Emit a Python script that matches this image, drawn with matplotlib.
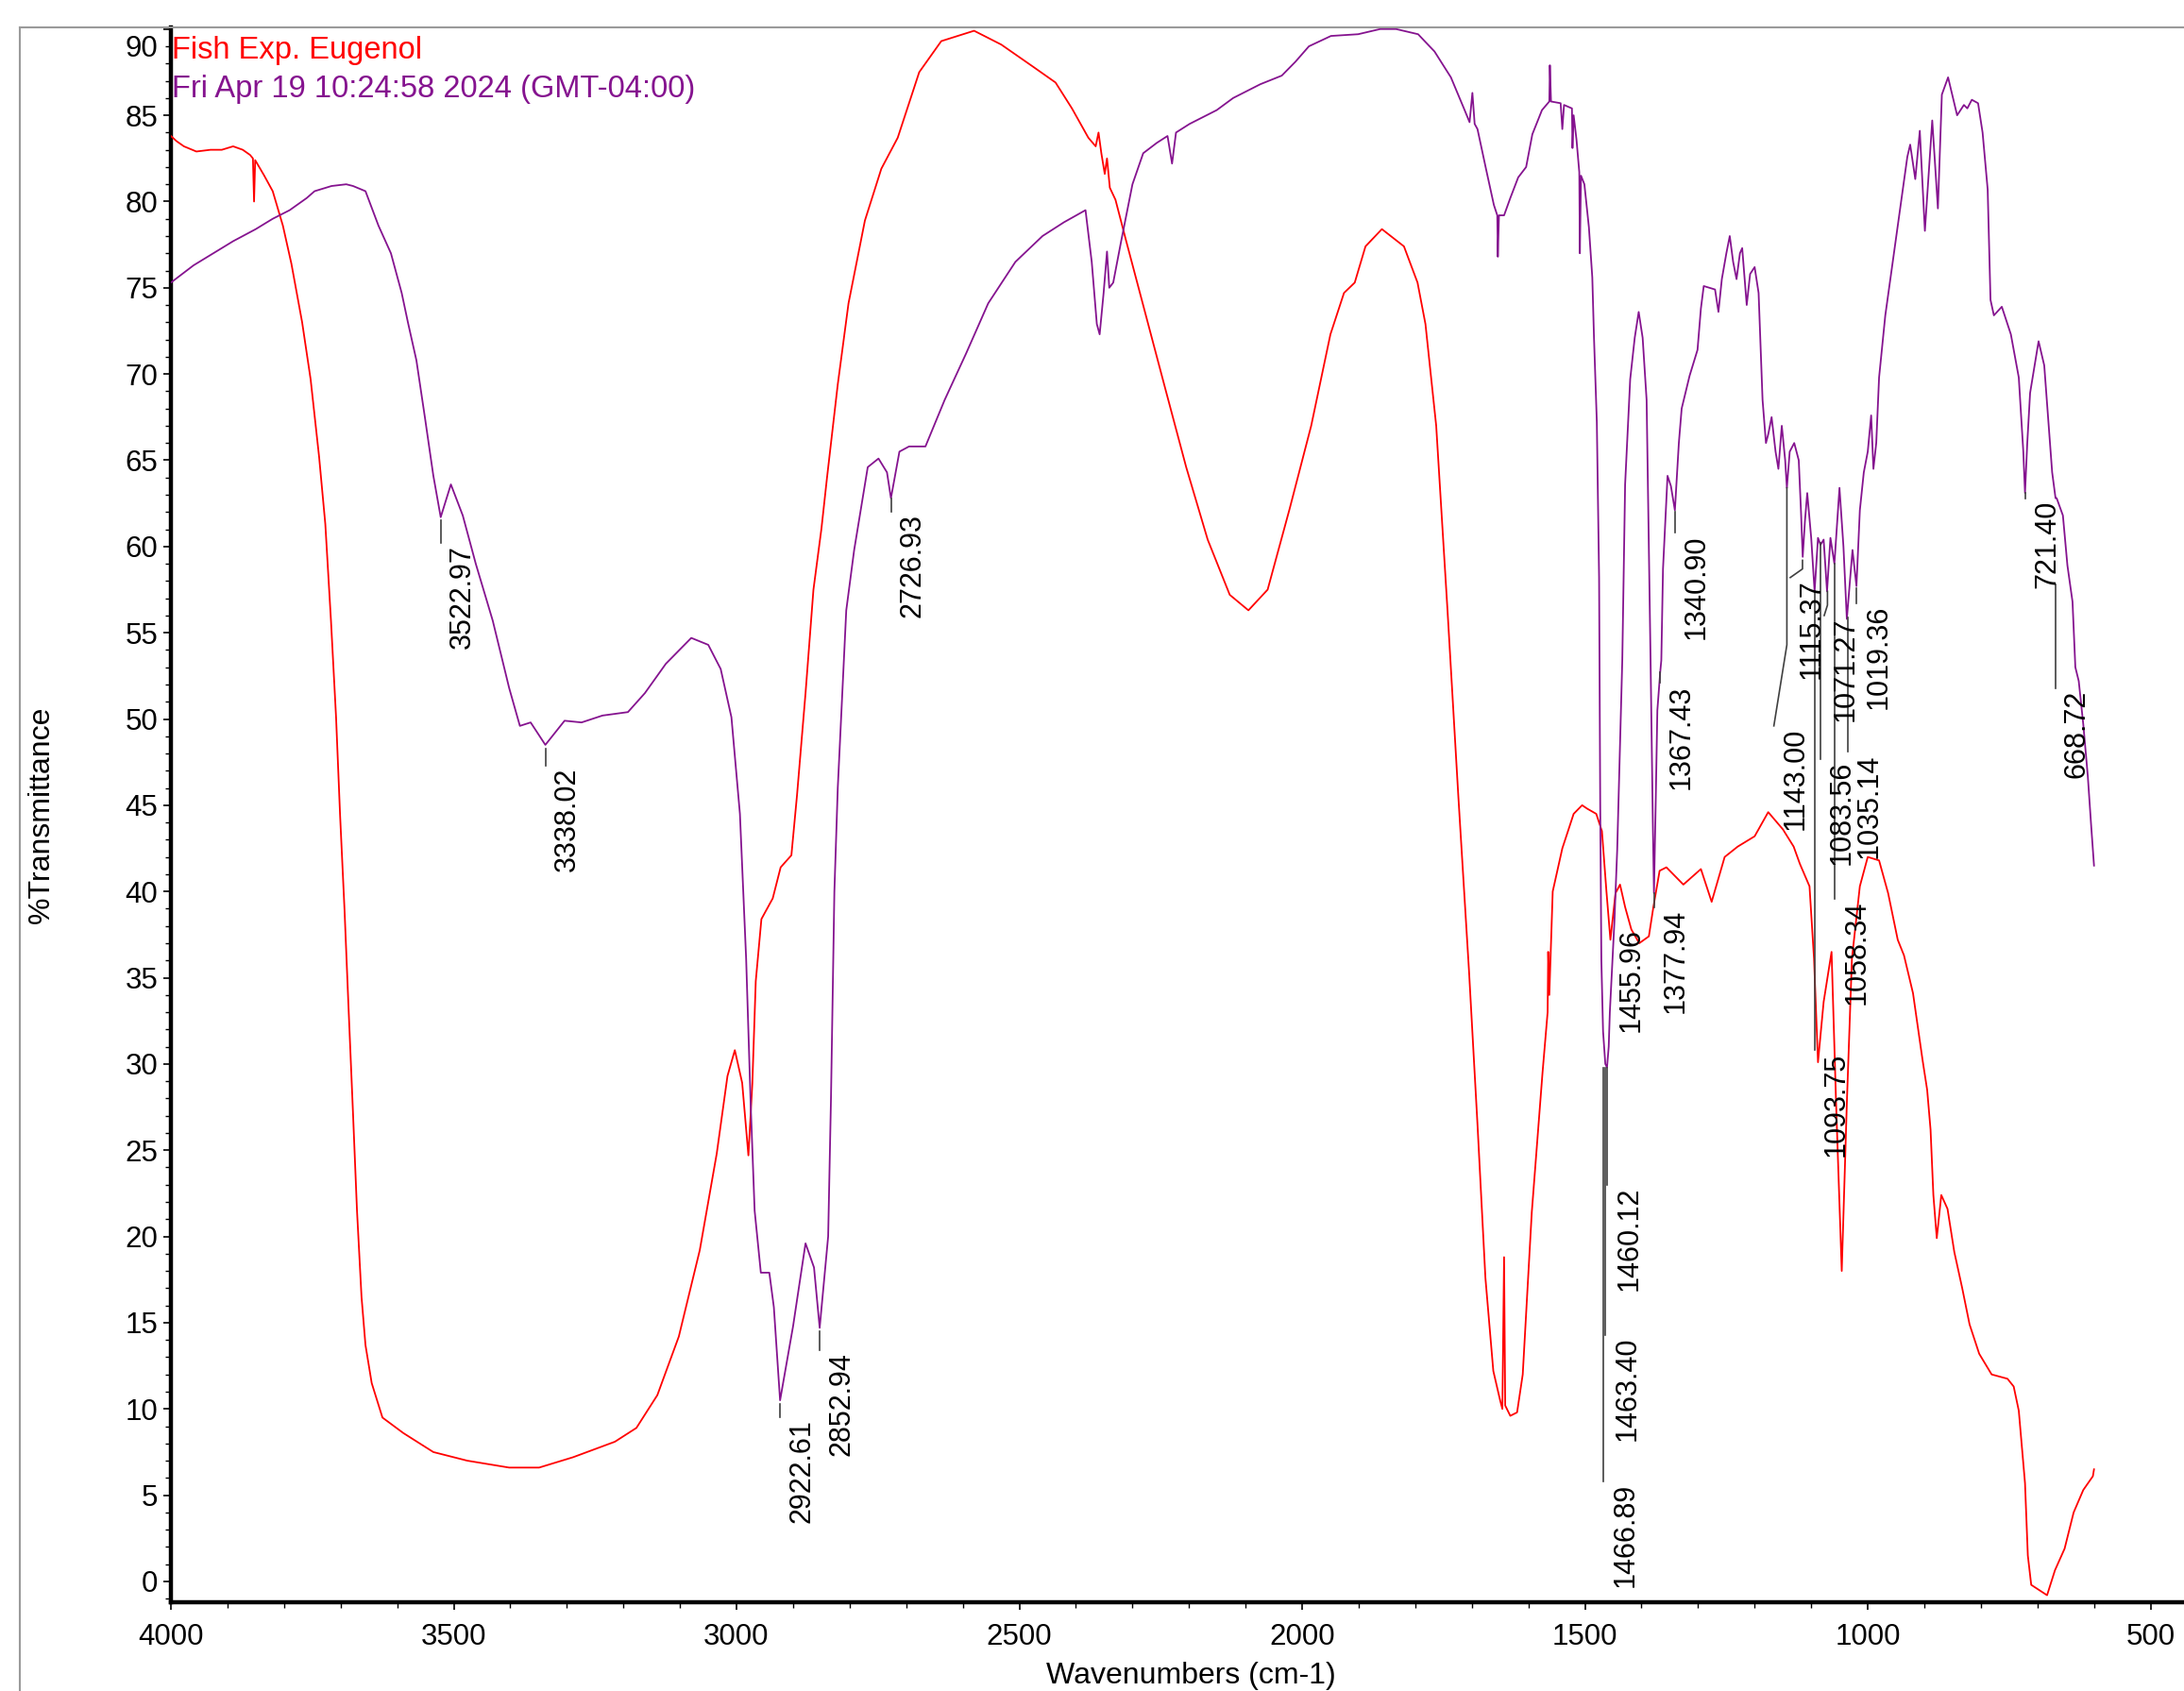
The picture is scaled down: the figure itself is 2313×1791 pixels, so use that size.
import numpy as np
import matplotlib.pyplot as plt
from matplotlib.ticker import MultipleLocator, FuncFormatter
from matplotlib.transforms import offset_copy

plt.rcParams['font.family'] = ['Liberation Sans', 'DejaVu Sans']

RED = '#ff0000'
PURPLE = '#85138f'

title_red = 'Fish Exp. Eugenol'
title_purple = 'Fri Apr 19 10:24:58 2024 (GMT-04:00)'

# red spectrum (Fish Exp. Eugenol), wavenumber / %T
red_wn = [4000, 3990, 3977, 3955, 3930, 3910, 3890, 3873, 3860, 3855, 3853, 3851, 3835, 3820,
          3802, 3787, 3768, 3753, 3738, 3727, 3717, 3708, 3701, 3693, 3686, 3678, 3671, 3663,
          3656, 3645, 3626, 3589, 3536, 3476, 3402, 3349, 3289, 3215, 3177, 3140, 3102, 3065,
          3035, 3016, 3003, 2990, 2979, 2972, 2966, 2956, 2936, 2922, 2903, 2893, 2878, 2864,
          2850, 2840, 2821, 2802, 2773, 2744, 2715, 2677, 2638, 2580, 2532, 2475, 2436, 2407,
          2378, 2365, 2360, 2355, 2349, 2345, 2340, 2330, 2311, 2282, 2244, 2205, 2167, 2128,
          2095, 2061, 2022, 1984, 1950, 1926, 1907, 1888, 1859, 1820, 1796, 1782, 1763, 1743,
          1724, 1705, 1690, 1676, 1662, 1650, 1646, 1643, 1641, 1632, 1620, 1610, 1594, 1575,
          1566, 1565, 1563, 1557, 1540, 1520, 1505, 1496, 1480, 1470, 1462, 1455, 1446, 1438,
          1429, 1418, 1404, 1387, 1379, 1368, 1356, 1326, 1295, 1276, 1253, 1230, 1200, 1176,
          1150, 1131, 1120, 1103, 1095, 1088, 1078, 1064, 1056, 1046, 1037, 1028, 1014, 1000,
          980, 964, 947, 936, 920, 903, 895, 889, 884, 878, 870, 859, 847, 833, 820, 803, 781,
          753, 742, 733, 722, 717, 711, 697, 683, 669, 652, 636, 619, 602, 600]
red_t = [83.8, 83.5, 83.2, 82.9, 83.0, 83.0, 83.2, 83.0, 82.7, 82.5, 80.0, 82.4, 81.5, 80.6,
         78.6, 76.4, 73.0, 69.7, 65.2, 61.3, 55.7, 50.1, 44.5, 38.9, 33.3, 27.1, 21.5, 16.5,
         13.7, 11.5, 9.5, 8.6, 7.5, 7.0, 6.6, 6.6, 7.2, 8.1, 8.9, 10.8, 14.2, 19.2,
         24.8, 29.3, 30.8, 28.9, 24.7, 28.9, 34.8, 38.4, 39.6, 41.4, 42.1, 45.6, 51.5, 57.5,
         61.0, 64.0, 69.4, 74.1, 78.9, 81.9, 83.7, 87.5, 89.3, 89.9, 89.1, 87.8, 86.9, 85.4,
         83.7, 83.2, 84.0, 82.8, 81.6, 82.5, 80.8, 80.1, 77.7, 74.1, 69.4, 64.6, 60.4, 57.2,
         56.3, 57.5, 62.2, 67.0, 72.3, 74.7, 75.3, 77.4, 78.4, 77.4, 75.3, 72.9, 67.0, 56.3,
         45.6, 35.4, 26.5, 17.6, 12.2, 10.5, 10.0, 18.8, 10.2, 9.6, 9.8, 12.0, 21.4, 29.5,
         33.0, 36.5, 34.0, 40.0, 42.5, 44.5, 45.0, 44.8, 44.5, 43.5, 40.0, 37.2, 39.9, 40.4,
         39.1, 37.8, 37.0, 37.4, 39.1, 41.2, 41.4, 40.4, 41.3, 39.4, 42.0, 42.6, 43.2, 44.6,
         43.6, 42.6, 41.6, 40.3, 36.1, 30.1, 33.6, 36.5, 27.7, 18.0, 27.7, 36.1, 40.3, 42.0,
         41.8, 39.9, 37.2, 36.3, 34.1, 30.2, 28.5, 26.2, 22.4, 19.9, 22.4, 21.6, 19.1, 17.0,
         14.9, 13.2, 12.0, 11.75, 11.3, 9.9, 5.7, 1.5, -0.2, -0.5, -0.8, 0.65, 1.9, 4.0, 5.3,
         6.1, 6.5]

# purple spectrum
pur_wn = [4000, 3960, 3925, 3890, 3850, 3820, 3790, 3760, 3746, 3716, 3690, 3678, 3656, 3633,
          3611, 3592, 3581, 3566, 3551, 3536, 3523, 3505, 3484, 3461, 3431, 3402, 3383, 3364,
          3338, 3304, 3274, 3237, 3192, 3162, 3125, 3080, 3050, 3028, 3009, 2994, 2983, 2975,
          2968, 2957, 2942, 2934, 2923, 2900, 2878, 2863, 2853, 2838, 2833, 2827, 2821, 2806,
          2792, 2768, 2749, 2734, 2727, 2712, 2695, 2666, 2632, 2594, 2555, 2507, 2459, 2421,
          2383, 2372, 2363, 2358, 2351, 2345, 2341, 2334, 2320, 2300, 2281, 2257, 2238, 2230,
          2223, 2199, 2151, 2122, 2074, 2036, 2012, 1988, 1949, 1901, 1862, 1834, 1795, 1766,
          1737, 1714, 1704, 1699, 1695, 1690, 1675, 1661, 1655, 1654, 1652, 1643, 1632, 1618,
          1604, 1593, 1576, 1563, 1562, 1560, 1543, 1540, 1537, 1523, 1522, 1520, 1515, 1510,
          1509, 1507, 1501, 1493, 1487, 1484, 1479, 1475, 1473, 1471, 1468, 1464, 1461, 1458,
          1456, 1448, 1443, 1434, 1429, 1420, 1412, 1405, 1398, 1391, 1387, 1384, 1380, 1378,
          1375, 1372, 1367, 1365, 1362, 1354, 1348, 1341, 1334, 1329, 1315, 1301, 1295, 1290,
          1280, 1270, 1264, 1258, 1250, 1244, 1238, 1232, 1226, 1222, 1214, 1208, 1200, 1193,
          1186, 1180, 1176, 1170, 1163, 1158, 1152, 1146, 1143, 1138, 1130, 1122, 1118, 1115,
          1111, 1107, 1100, 1094, 1088, 1083.5, 1078, 1072, 1066, 1059, 1050, 1043, 1037, 1027,
          1020, 1014, 1007, 1000, 994, 990, 985, 980, 969, 955, 941, 930, 925, 916, 908, 899,
          886, 876, 869, 858, 842, 830, 824, 816, 805, 797, 788, 783, 777, 763, 747, 733, 725,
          722, 718, 713, 698, 688, 680, 674, 668, 666, 655, 647, 638, 633, 627, 619, 611, 605,
          600]
pur_t = [75.3, 76.3, 77.0, 77.7, 78.4, 79.0, 79.5, 80.2, 80.6, 80.9, 81.0, 80.9, 80.6, 78.6,
         77.0, 74.7, 73.0, 70.8, 67.5, 64.1, 61.7, 63.6, 61.8, 59.0, 55.7, 51.8, 49.6, 49.8,
         48.5, 49.9, 49.8, 50.2, 50.4, 51.5, 53.2, 54.7, 54.3, 52.9, 50.1, 44.5, 36.1, 27.7,
         21.5, 17.9, 17.9, 15.9, 10.5, 14.8, 19.6, 18.2, 14.7, 20.0, 28.0, 40.0, 46.0, 56.3,
         59.8, 64.6, 65.1, 64.3, 62.8, 65.5, 65.8, 65.8, 68.5, 71.2, 74.1, 76.5, 78.0, 78.8,
         79.5, 76.5, 72.9, 72.3, 74.7, 77.1, 75.0, 75.3, 77.7, 81.0, 82.8, 83.4, 83.8, 82.2,
         84.0, 84.5, 85.3, 86.0, 86.8, 87.3, 88.1, 89.0, 89.6, 89.7, 90.0, 90.0, 89.7, 88.7,
         87.2, 85.4, 84.6, 86.3, 84.5, 84.2, 81.9, 79.8, 79.2, 76.8, 79.2, 79.2, 80.2, 81.4,
         82.0, 83.9, 85.3, 85.8, 87.9, 85.8, 85.7, 84.2, 85.6, 85.4, 83.1, 85.0, 83.6, 81.7,
         77.0, 81.5, 81.0, 78.5, 75.6, 72.1, 67.2, 58.2, 45.0, 36.0, 31.9, 30.0, 29.8, 31.0,
         33.0, 38.2, 42.4, 53.4, 63.6, 69.7, 72.1, 73.6, 72.1, 68.5, 59.9, 53.4, 44.0, 39.9,
         45.0, 50.5, 52.7, 53.4, 58.7, 64.1, 63.5, 62.1, 66.0, 68.0, 69.9, 71.4, 73.8, 75.1,
         75.0, 74.9, 73.6, 75.5, 77.0, 78.0, 76.5, 75.5, 77.0, 77.3, 74.0, 75.8, 76.2, 74.7,
         68.5, 66.0, 66.5, 67.5, 65.5, 64.5, 67.0, 65.0, 63.4, 65.5, 66.0, 65.0, 62.0, 59.4,
         61.5, 63.1, 60.5, 57.4, 60.5, 60.1, 60.4, 57.4, 60.5, 59.0, 63.4, 60.0, 55.8, 59.8,
         57.7, 62.1, 64.3, 65.5, 67.6, 64.5, 66.0, 69.8, 73.4, 76.7, 80.0, 82.6, 83.3, 81.3,
         84.1, 78.3, 84.7, 79.6, 86.2, 87.2, 85.0, 85.6, 85.4, 85.9, 85.7, 84.0, 80.7, 74.3,
         73.4, 73.9, 72.3, 69.8, 65.5, 63.1, 66.0, 68.9, 71.9, 70.5, 67.0, 64.3, 62.8, 62.8,
         61.8, 58.9, 56.8, 53.0, 52.2, 49.7, 46.7, 43.8, 41.5]

# peak labels: text, line start %T, line knee %T, text anchor wn / %T
peak_text = ['3522.97', '3338.02', '2922.61', '2852.94', '2726.93', '1466.89', '1463.40',
             '1460.12', '1455.96', '1377.94', '1367.43', '1340.90', '1143.00', '1115.37',
             '1093.75', '1083.56', '1071.27', '1058.34', '1035.14', '1019.36', '721.40',
             '668.72']
peak_top = [61.5, 48.3, 10.3, 14.5, 62.8, 29.8, 29.8, 29.8, 38.0, 39.9, 52.7, 62.0, 63.4,
            59.2, 57.4, 60.2, 57.4, 59.0, 55.9, 57.6, 63.1, 57.8]
peak_knee = [60.2, 47.3, 9.5, 13.4, 62.0, 5.8, 14.3, 23.0, 38.0, 39.1, 52.1, 60.8, 54.3,
             58.7, 30.8, 47.7, 56.6, 39.6, 48.1, 56.7, 62.8, 51.8]
text_wn = [3522.97, 3338.02, 2922.61, 2852.94, 2726.93, 1466.89, 1463.40, 1460.12, 1455.96,
           1377.94, 1367.43, 1340.90, 1166.0, 1137.0, 1093.75, 1083.56, 1077.0, 1058.34,
           1035.14, 1019.36, 721.40, 668.72]
text_t = [60.2, 47.3, 9.5, 13.4, 62.0, 5.8, 14.3, 23.0, 38.0, 39.1, 52.1, 60.8, 49.6, 58.2,
          30.8, 47.7, 56.0, 39.6, 48.1, 56.7, 62.8, 51.8]

W, H = 2313, 1791
fig = plt.figure(figsize=(W / 100, H / 100), dpi=100)
left_px, top_px, bot_px = 181, 29.3, 1696.5
ax = fig.add_axes([left_px / W, 1 - bot_px / H, 1 - left_px / W, (bot_px - top_px) / H])

ax.plot(red_wn, red_t, color=RED, lw=1.3, zorder=3)
ax.plot(pur_wn, pur_t, color=PURPLE, lw=1.3, zorder=3)

ax.set_xlim(4000, 440.9)
ax.set_ylim(-1.18, 90.08)

for s in ['top', 'right']:
    ax.spines[s].set_visible(False)
for s in ['left', 'bottom']:
    ax.spines[s].set_linewidth(3.2)

ax.xaxis.set_major_locator(MultipleLocator(500))
ax.xaxis.set_minor_locator(MultipleLocator(100))
ax.yaxis.set_major_locator(MultipleLocator(5))
ax.yaxis.set_minor_locator(MultipleLocator(1))
ax.yaxis.set_major_formatter(FuncFormatter(lambda v, p: '' if round(v) >= 90 else '%d' % round(v)))
ax.tick_params(which='major', direction='out', length=6, width=1.2, labelsize=22.5)
ax.tick_params(which='minor', direction='out', length=4, width=1.0)
ax.tick_params(axis='x', which='major', pad=10)
ax.tick_params(axis='y', which='major', pad=4)
ax.annotate('90', xy=(0, 90), xycoords=('axes fraction', 'data'), xytext=(-10, -15),
            textcoords='offset points', ha='right', va='center', fontsize=22.5)

# peak markers
tr = offset_copy(ax.transData, fig=fig, x=8, y=-2, units='dots')
for i, lab in enumerate(peak_text):
    pw = float(lab)
    ax.plot([pw, pw, text_wn[i]], [peak_top[i], peak_knee[i], text_t[i]],
            color='#404040', lw=1.2, zorder=4)
    ax.text(text_wn[i], text_t[i], lab, transform=tr, rotation=90, ha='left', va='top',
            fontsize=22, color='black', zorder=5)

fig.text(182 / W, 1 - 61.7 / H, title_red, color=RED, fontsize=23.5, va='baseline')
fig.text(182 / W, 1 - 102.7 / H, title_purple, color=PURPLE, fontsize=23.5, va='baseline')
fig.text(44 / W, 1 - 863 / H, '%Transmittance', rotation=90, ha='center', va='center',
         fontsize=23)
fig.text(1261 / W, 1 - 1783 / H, 'Wavenumbers (cm-1)', ha='center', va='baseline', fontsize=23)

# outer frame
fig.add_artist(plt.Line2D([21 / W, 21 / W], [0, 1 - top_px / H], color='#9a9a9a', lw=1.5))
fig.add_artist(plt.Line2D([21 / W, 1], [1 - top_px / H, 1 - top_px / H], color='#9a9a9a', lw=1.5))

fig.savefig('out.png', dpi=100)
